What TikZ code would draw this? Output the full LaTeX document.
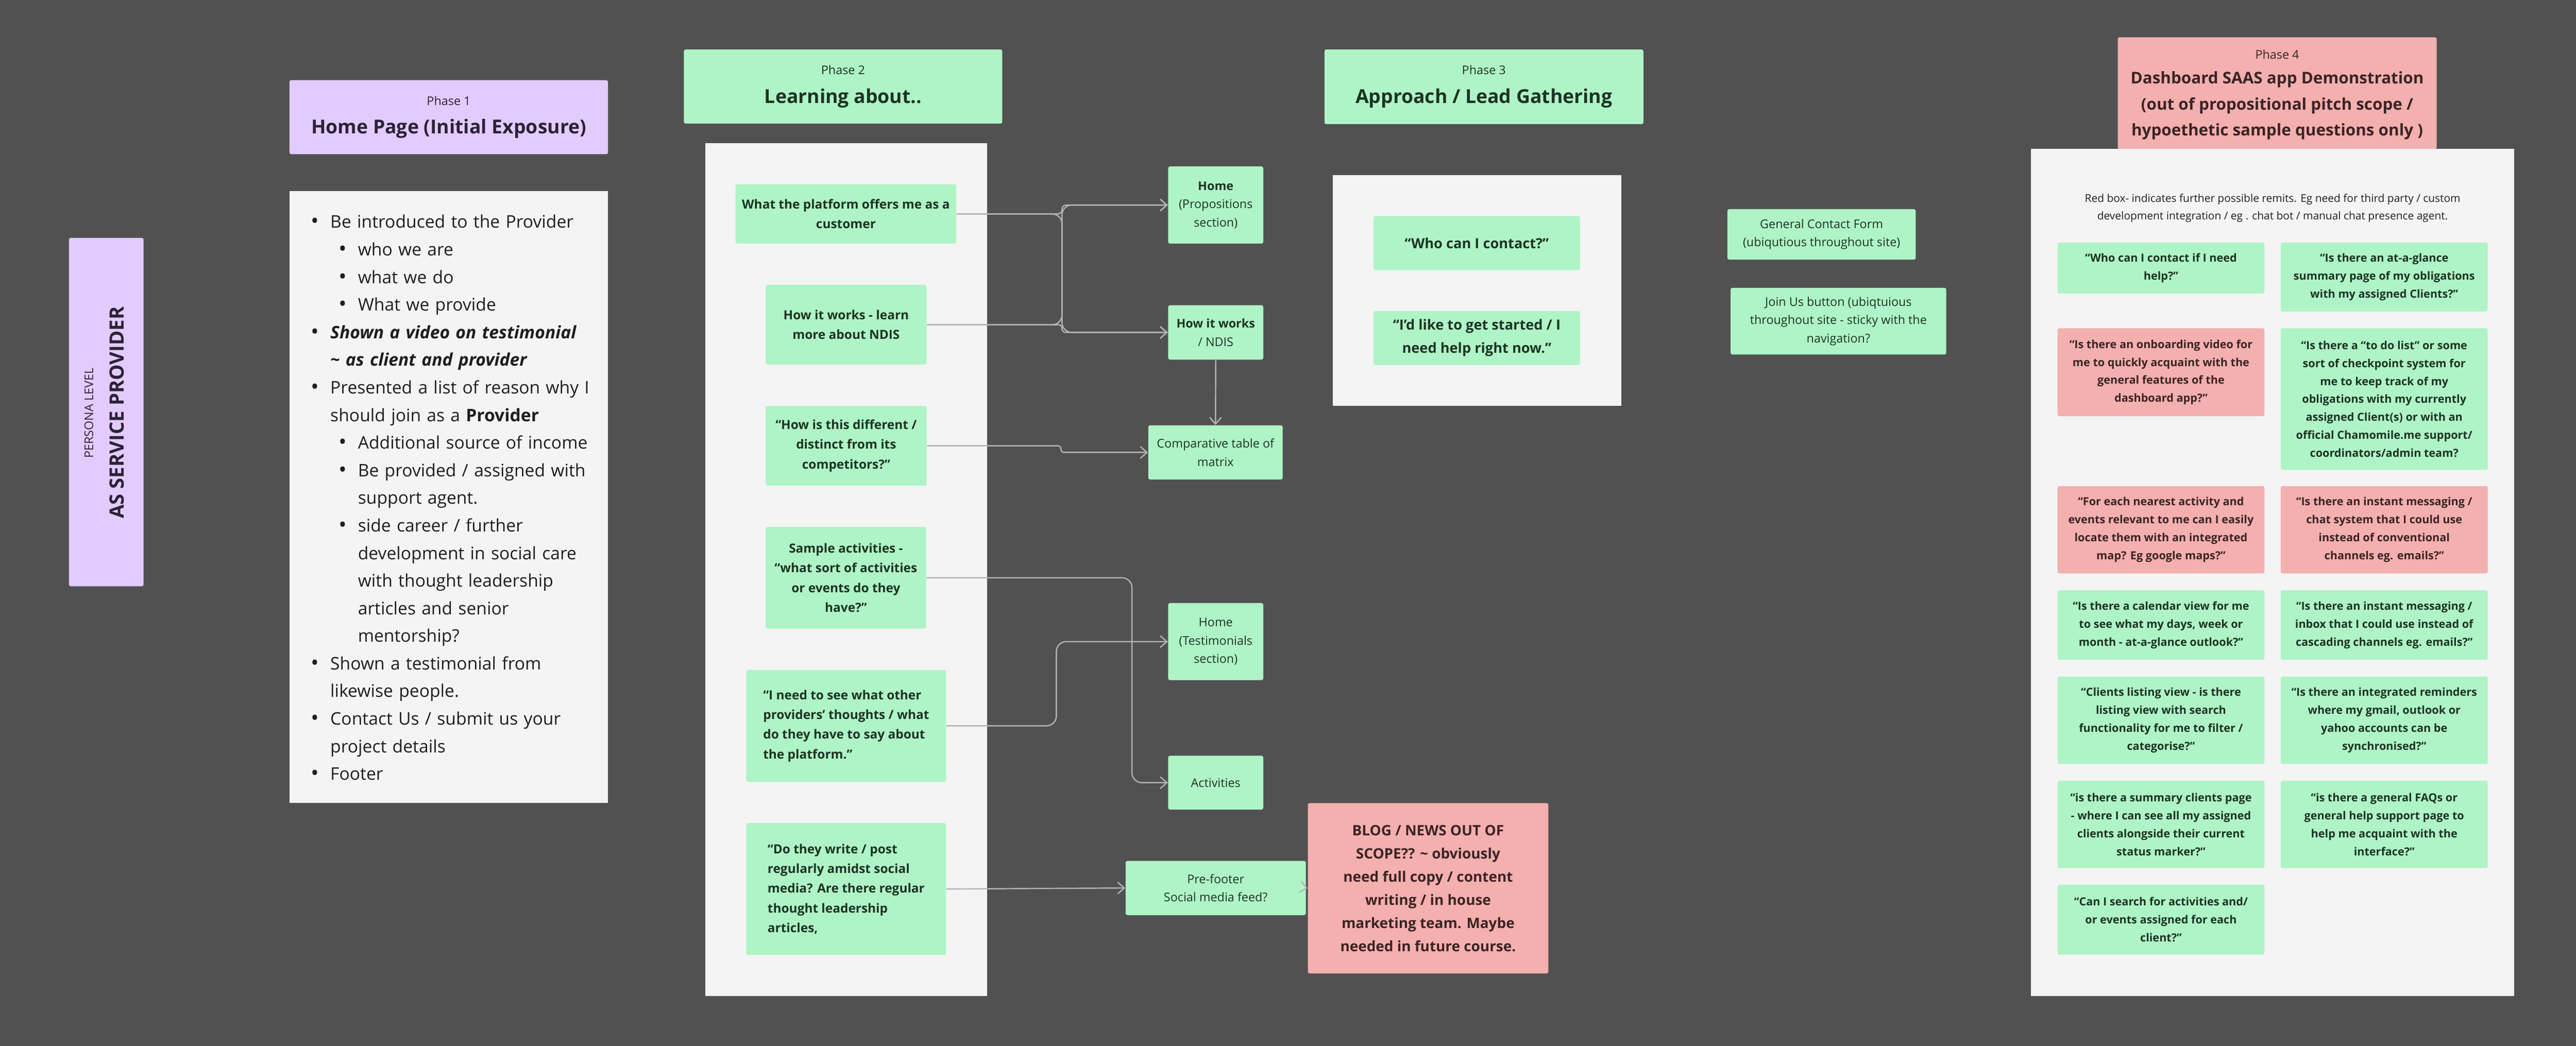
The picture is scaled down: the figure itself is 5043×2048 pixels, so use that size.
\documentclass[tikz,border=0pt]{standalone}
\usepackage{fontspec}
\setmainfont{Open Sans}
\usepackage{enumitem}
\usetikzlibrary{arrows.meta,positioning,calc}

\definecolor{bgDark}{HTML}{515151}
\definecolor{panelGrey}{HTML}{F4F4F4}
\definecolor{mintGreen}{HTML}{AFF4C6}
\definecolor{lilac}{HTML}{E2CCFF}
\definecolor{rose}{HTML}{F4AFAF}
\definecolor{wireGrey}{HTML}{B3B3B3}
\definecolor{inkGreen}{HTML}{1C3324}
\definecolor{inkRose}{HTML}{3A2424}
\definecolor{inkLilac}{HTML}{2B2236}
\definecolor{inkDark}{HTML}{1E1E1E}

\newcommand{\fsz}[2]{\fontsize{#1}{#2}\selectfont}

\setlist[itemize]{nosep, label=\raisebox{-0.3pt}{\fsz{12pt}{12pt}\textbullet}, labelsep=0.22cm}
\setlist[itemize,1]{leftmargin=0.46cm}
\setlist[itemize,2]{leftmargin=0.54cm}

\begin{document}
\begin{tikzpicture}[x=0.01cm, y=-0.01cm,
		every node/.style={inner sep=1pt, align=center},
		panel/.style={fill=panelGrey},
		lilacBox/.style={fill=lilac, rounded corners=1pt},
		mintBox/.style={fill=mintGreen, rounded corners=1pt, text=inkGreen},
		roseBox/.style={fill=rose, rounded corners=1pt, text=inkRose},
		tagText/.style={font=\fsz{6.7pt}{8pt}},
		titleText/.style={font=\fsz{10.7pt}{13pt}\bfseries},
		cardText/.style={font=\fsz{7pt}{11pt}\bfseries},
		askText/.style={font=\fsz{6.2pt}{10pt}\bfseries},
		plainText/.style={font=\fsz{6.7pt}{10.2pt}},
		leadText/.style={font=\fsz{7.8pt}{12.9pt}\bfseries},
		connArrow/.style={draw=wireGrey, line width=0.7pt, rounded corners=5.5pt,
				-{Straight Barb[length=3.7pt,width=6.5pt]}}
	]

	\useasboundingbox (0,0) rectangle (5043,2048);
	\fill[bgDark] (0,0) rectangle (5043,2048);

	% Persona column
	\node[lilacBox, minimum width=1.46cm, minimum height=6.82cm] (persona) at (208,807) {};
	\node[rotate=90, text=inkLilac, font=\fsz{6.7pt}{8pt}] (personaTag) at (174,809) {PERSONA LEVEL};
	\node[rotate=90, text=inkLilac, font=\fsz{11pt}{13pt}\bfseries] (personaName) at (229,808) {AS SERVICE PROVIDER};

	% Phase 1
	\node[lilacBox, minimum width=6.23cm, minimum height=1.45cm] (headOne) at (878.5,229.5) {};
	\node[tagText, text=inkLilac] (tagOne) at (878.5,197) {Phase 1};
	\node[titleText, text=inkLilac] (titleOne) at (878.5,251.5) {Home Page (Initial Exposure)};
	\node[panel, minimum width=6.23cm, minimum height=11.97cm] (bodyOne) at (878.5,973.5) {};
	\node[anchor=north west, inner sep=0pt, text width=5.85cm, align=left, text=inkDark,
		font=\fsz{9.65pt}{15.37pt}] (listOne) at (600,392) {%
		\begin{itemize}
			\item Be introduced to the Provider
			      \begin{itemize}
				      \item who we are
				      \item what we do
				      \item What we provide
			      \end{itemize}
			\item \textbf{\textit{Shown a video on testimonial\\\textasciitilde{} as client and provider}}
			\item Presented a list of reason why I\\should join as a \textbf{Provider}
			      \begin{itemize}
				      \item Additional source of income
				      \item Be provided / assigned with\\support agent.
				      \item side career / further\\development in social care\\with thought leadership\\articles and senior\\mentorship?
			      \end{itemize}
			\item Shown a testimonial from\\likewise people.
			\item Contact Us / submit us your\\project details
			\item Footer
		\end{itemize}};

	% Phase 2
	\node[mintBox, minimum width=6.23cm, minimum height=1.45cm] (headTwo) at (1650.5,169.5) {};
	\node[tagText, text=inkGreen] (tagTwo) at (1650.5,137) {Phase 2};
	\node[titleText, text=inkGreen] (titleTwo) at (1650.5,192) {Learning about..};
	\node[panel, minimum width=5.51cm, minimum height=16.69cm] (bodyTwo) at (1656.5,1115.5) {};

	\node[mintBox, cardText, minimum width=4.32cm, minimum height=1.16cm] (offers) at (1656,419)
	{What the platform offers me as a\\customer};
	\node[mintBox, cardText, minimum width=3.15cm, minimum height=1.56cm] (learnNdis) at (1656.5,636)
	{How it works - learn\\more about NDIS};
	\node[mintBox, cardText, minimum width=3.15cm, minimum height=1.56cm] (different) at (1656.5,873)
	{“How is this different /\\distinct from its\\competitors?”};
	\node[mintBox, cardText, minimum width=3.14cm, minimum height=1.99cm] (sample) at (1656,1131.5)
	{Sample activities -\\“what sort of activities\\or events do they\\have?”};
	\node[mintBox, cardText, align=left, minimum width=3.91cm, minimum height=2.19cm] (thoughts) at (1656.5,1421.5)
	{“I need to see what other\\providers’ thoughts / what\\do they have to say about\\the platform.”};
	\node[mintBox, cardText, align=left, minimum width=3.91cm, minimum height=2.58cm] (social) at (1656.5,1741)
	{“Do they write / post\\regularly amidst social\\media? Are there regular\\thought leadership\\articles,};

	\node[mintBox, plainText, minimum width=1.86cm, minimum height=1.51cm] (homeProp) at (2380,401.5)
	{\textbf{Home}\\(Propositions\\section)};
	\node[mintBox, plainText, minimum width=1.86cm, minimum height=1.065cm] (howWorks) at (2380,651)
	{\textbf{How it works}\\/ NDIS};
	\node[mintBox, plainText, minimum width=2.63cm, minimum height=1.06cm] (compTable) at (2379.5,886)
	{Comparative table of\\matrix};
	\node[mintBox, plainText, minimum width=1.86cm, minimum height=1.51cm] (homeTesti) at (2380,1256.5)
	{Home\\(Testimonials\\section)};
	\node[mintBox, plainText, minimum width=1.86cm, minimum height=1.055cm] (activities) at (2380,1532.7)
	{Activities};
	\node[mintBox, plainText, minimum width=3.525cm, minimum height=1.06cm] (preFooter) at (2380,1739)
	{Pre-footer\\Social media feed?};
	\node[roseBox, font=\fsz{8pt}{12.9pt}\bfseries, minimum width=4.705cm, minimum height=3.335cm] (blogScope) at (2795.7,1739.5)
	{BLOG / NEWS OUT OF\\SCOPE?? \textasciitilde{} obviously\\need full copy / content\\writing / in house\\marketing team. Maybe\\needed in future course.};

	% routing columns
	\coordinate (splitX) at (2079,0);
	\coordinate (stepX) at (2077,0);
	\coordinate (testiX) at (2068,0);
	\coordinate (actX) at (2216,0);

	\draw[connArrow, rounded corners=2.4pt] (offers.east) -- (offers.east -| splitX) |- (homeProp.west);
	\draw[connArrow] (offers.east) -- (offers.east -| splitX) |- (howWorks.west);
	\draw[connArrow] (learnNdis.east) -- (learnNdis.east -| splitX) |- (homeProp.west);
	\draw[connArrow, rounded corners=2pt] (learnNdis.east) -- (learnNdis.east -| splitX) |- (howWorks.west);
	\draw[connArrow] (howWorks.south) -- (compTable.north);
	\draw[connArrow, rounded corners=1.7pt] (different.east) -- (different.east -| stepX) |- (compTable.west);
	\draw[connArrow] (sample.east) -- (sample.east -| actX) |- (activities.west);
	\draw[connArrow] (thoughts.east) -- (thoughts.east -| testiX) |- (homeTesti.west);
	\draw[connArrow] (social.east) -- (preFooter.west);
	\draw[connArrow] (preFooter.east) -- (blogScope.west);

	% Phase 3
	\node[mintBox, minimum width=6.24cm, minimum height=1.46cm] (headThree) at (2905,170) {};
	\node[tagText, text=inkGreen] (tagThree) at (2905,137) {Phase 3};
	\node[titleText, text=inkGreen] (titleThree) at (2905,192) {Approach / Lead Gathering};
	\node[panel, minimum width=5.65cm, minimum height=4.52cm] (bodyThree) at (2891.5,569) {};
	\node[mintBox, leadText, minimum width=4.04cm, minimum height=1.06cm] (whoContact) at (2891,476)
	{“Who can I contact?”};
	\node[mintBox, leadText, minimum width=4.04cm, minimum height=1.06cm] (getStarted) at (2891,662)
	{“I’d like to get started / I\\need help right now.”};
	\node[mintBox, plainText, minimum width=3.685cm, minimum height=0.986cm] (contactForm) at (3566,459)
	{General Contact Form\\(ubiqutious throughout site)};
	\node[mintBox, plainText, minimum width=4.22cm, minimum height=1.306cm] (joinUs) at (3599,629)
	{Join Us button (ubiqtuious\\throughout site - sticky with the\\navigation?};

	% Phase 4
	\node[roseBox, minimum width=6.24cm, minimum height=2.19cm] (headFour) at (4458,182.5) {};
	\node[tagText, text=inkRose] (tagFour) at (4458,107) {Phase 4};
	\node[text=inkRose, font=\fsz{9pt}{14.5pt}\bfseries] (titleFour) at (4458,207)
	{Dashboard SAAS app Demonstration\\(out of propositional pitch scope /\\hypoethetic sample questions only )};
	\node[panel, minimum width=9.46cm, minimum height=16.58cm] (bodyFour) at (4449,1121) {};
	\node[text=inkDark, font=\fsz{6pt}{10pt}] (remitNote) at (4449,407.5)
	{Red box- indicates further possible remits. Eg need for third party / custom\\development integration / eg . chat bot / manual chat presence agent.};

	\node[mintBox, askText, minimum width=4.05cm, minimum height=1.00cm] (askHelp) at (4230.5,525)
	{“Who can I contact if I need\\help?”};
	\node[mintBox, askText, minimum width=4.05cm, minimum height=1.35cm] (askGlance) at (4667.5,542.5)
	{“Is there an at-a-glance\\summary page of my obligations\\with my assigned Clients?”};
	\node[roseBox, askText, minimum width=4.05cm, minimum height=1.72cm] (askVideo) at (4230.5,729)
	{“Is there an onboarding video for\\me to quickly acquaint with the\\general features of the\\dashboard app?”};
	\node[mintBox, askText, minimum width=4.05cm, minimum height=2.77cm] (askTodo) at (4667.5,781.5)
	{“Is there a “to do list” or some\\sort of checkpoint system for\\me to keep track of my\\obligations with my currently\\assigned Client(s) or with an\\official Chamomile.me support/\\coordinators/admin team?};
	\node[roseBox, askText, minimum width=4.05cm, minimum height=1.71cm] (askMap) at (4230.5,1037.5)
	{“For each nearest activity and\\events relevant to me can I easily\\locate them with an integrated\\map? Eg google maps?”};
	\node[roseBox, askText, minimum width=4.05cm, minimum height=1.71cm] (askChat) at (4667.5,1037.5)
	{“Is there an instant messaging /\\chat system that I could use\\instead of conventional\\channels eg. emails?”};
	\node[mintBox, askText, minimum width=4.05cm, minimum height=1.36cm] (askCalendar) at (4230.5,1224)
	{“Is there a calendar view for me\\to see what my days, week or\\month - at-a-glance outlook?”};
	\node[mintBox, askText, minimum width=4.05cm, minimum height=1.36cm] (askInbox) at (4667.5,1224)
	{“Is there an instant messaging /\\inbox that I could use instead of\\cascading channels eg. emails?”};
	\node[mintBox, askText, minimum width=4.05cm, minimum height=1.71cm] (askListing) at (4230.5,1410.5)
	{“Clients listing view - is there\\listing view with search\\functionality for me to filter /\\categorise?”};
	\node[mintBox, askText, minimum width=4.05cm, minimum height=1.71cm] (askReminder) at (4667.5,1410.5)
	{“Is there an integrated reminders\\where my gmail, outlook or\\yahoo accounts can be\\synchronised?”};
	\node[mintBox, askText, minimum width=4.05cm, minimum height=1.71cm] (askSummary) at (4230.5,1614.5)
	{“is there a summary clients page\\- where I can see all my assigned\\clients alongside their current\\status marker?”};
	\node[mintBox, askText, minimum width=4.05cm, minimum height=1.71cm] (askFaq) at (4667.5,1614.5)
	{“is there a general FAQs or\\general help support page to\\help me acquaint with the\\interface?”};
	\node[mintBox, askText, minimum width=4.05cm, minimum height=1.37cm] (askSearch) at (4230.5,1801)
	{“Can I search for activities and/\\or events assigned for each\\client?”};
\end{tikzpicture}
\end{document}
